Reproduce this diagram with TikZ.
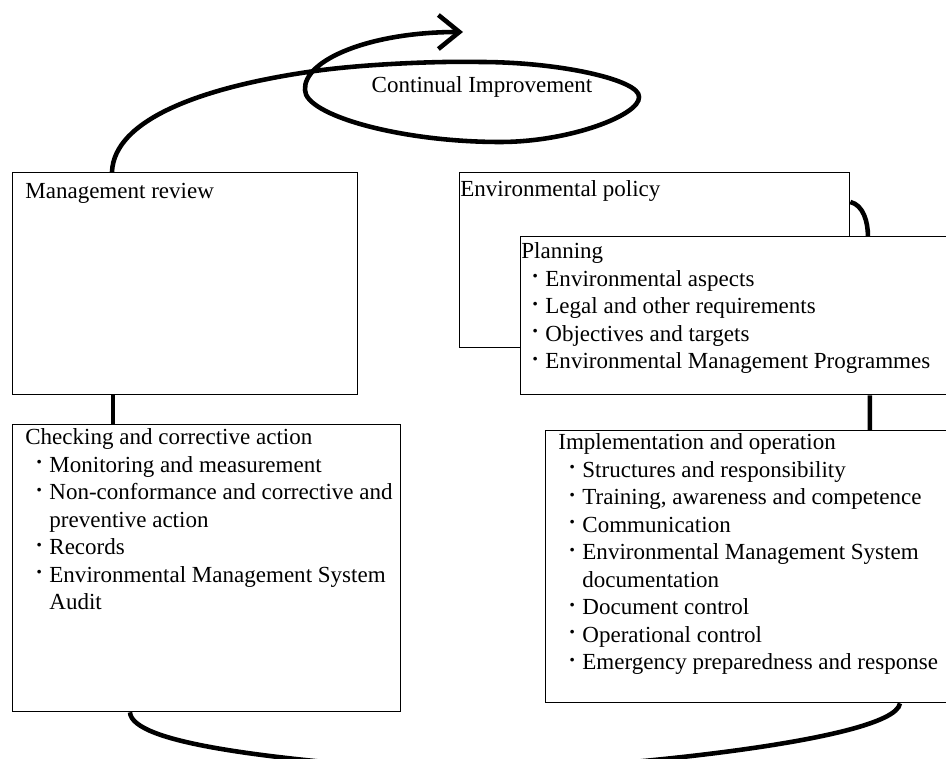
\documentclass[tikz,border=0pt]{standalone}
\usepackage{fontspec}
\setmainfont{Liberation Serif}
\usetikzlibrary{arrows.meta}
\newcommand{\dotmark}{\raisebox{.75ex}{\scalebox{.45}{$\bullet$}}}
\begin{document}
\begin{tikzpicture}
	[x=0.02cm,y=-0.02cm,
	box/.style={rectangle,draw=black,fill=white,line width=.8pt,anchor=north west,inner sep=0pt},
	txt/.style={anchor=base west,inner sep=0pt,font=\fontsize{13.1}{15.65}\selectfont},
	link/.style={line width=2.6pt}
	]
	\useasboundingbox (0,0) rectangle (946,759);
	\clip (0,0) rectangle (946,759);

	\node[box,minimum width=6.9cm,minimum height=4.44cm] (review) at (12,172){};
	\node[box,minimum width=7.76cm,minimum height=5.74cm] (check) at (12,424){};
	\node[box,minimum width=7.8cm,minimum height=3.5cm] (policy) at (459,172){};
	\node[box,minimum width=8.8cm,minimum height=3.16cm] (plan) at (520,236){};
	\node[box,minimum width=8.3cm,minimum height=5.44cm] (impl) at (545,430){};

	\node[txt] (reviewtext) at (25,199){Management review};
	\node[txt] (policytext) at (460,197){Environmental policy};
	\node[txt] (plantext) at (521,259){\begin{tabular}[t]{@{\hspace{6.5pt}}c@{\hspace{4.5pt}}l@{}}
		\multicolumn{2}{@{}l@{}}{Planning}\\
		\dotmark & Environmental aspects\\
		\dotmark & Legal and other requirements\\
		\dotmark & Objectives and targets\\
		\dotmark & Environmental Management Programmes
	\end{tabular}};
	\node[txt] (checktext) at (25,445){\begin{tabular}[t]{@{\hspace{6.5pt}}c@{\hspace{4.5pt}}l@{}}
		\multicolumn{2}{@{}l@{}}{Checking and corrective action}\\
		\dotmark & Monitoring and measurement\\
		\dotmark & Non-conformance and corrective and\\
		& preventive action\\
		\dotmark & Records\\
		\dotmark & Environmental Management System\\
		& Audit
	\end{tabular}};
	\node[txt] (impltext) at (558,450){\begin{tabular}[t]{@{\hspace{6.5pt}}c@{\hspace{4.5pt}}l@{}}
		\multicolumn{2}{@{}l@{}}{Implementation and operation}\\
		\dotmark & Structures and responsibility\\
		\dotmark & Training, awareness and competence\\
		\dotmark & Communication\\
		\dotmark & Environmental Management System\\
		& documentation\\
		\dotmark & Document control\\
		\dotmark & Operational control\\
		\dotmark & Emergency preparedness and response
	\end{tabular}};
	\node[txt,anchor=base] (ci) at (482,93){Continual Improvement};

	% links between the boxes
	\draw[link] ([xshift=2.02cm]review.south west) -- ([xshift=2.02cm]check.north west);
	\draw[link] ([xshift=7cm]plan.south west) -- ([xshift=6.5cm]impl.north west);
	\draw[link] ([yshift=-.6cm]policy.north east) .. controls +(13,3) and +(0,-14) .. ([xshift=6.96cm]plan.north west);
	\draw[link] ([xshift=2.36cm]check.south west) .. controls +(2,31) and (270,760) .. (450,772)
		.. controls (580,772) and +(-5,39) .. ([xshift=7.1cm]impl.south west);

	% improvement loop
	\draw[link,-{Straight Barb[length=.42cm,width=.68cm]}] ([xshift=2cm]review.north west)
		.. controls (114,120) and (200,88) .. (308,72)
		.. controls (360,64) and (440,61) .. (480,62)
		.. controls (560,62) and (640,80) .. (639,97)
		.. controls (640,115) and (570,142) .. (500,142)
		.. controls (400,142) and (305,115) .. (305,90)
		.. controls (303,60) and (370,32) .. (463,32);
\end{tikzpicture}
\end{document}
